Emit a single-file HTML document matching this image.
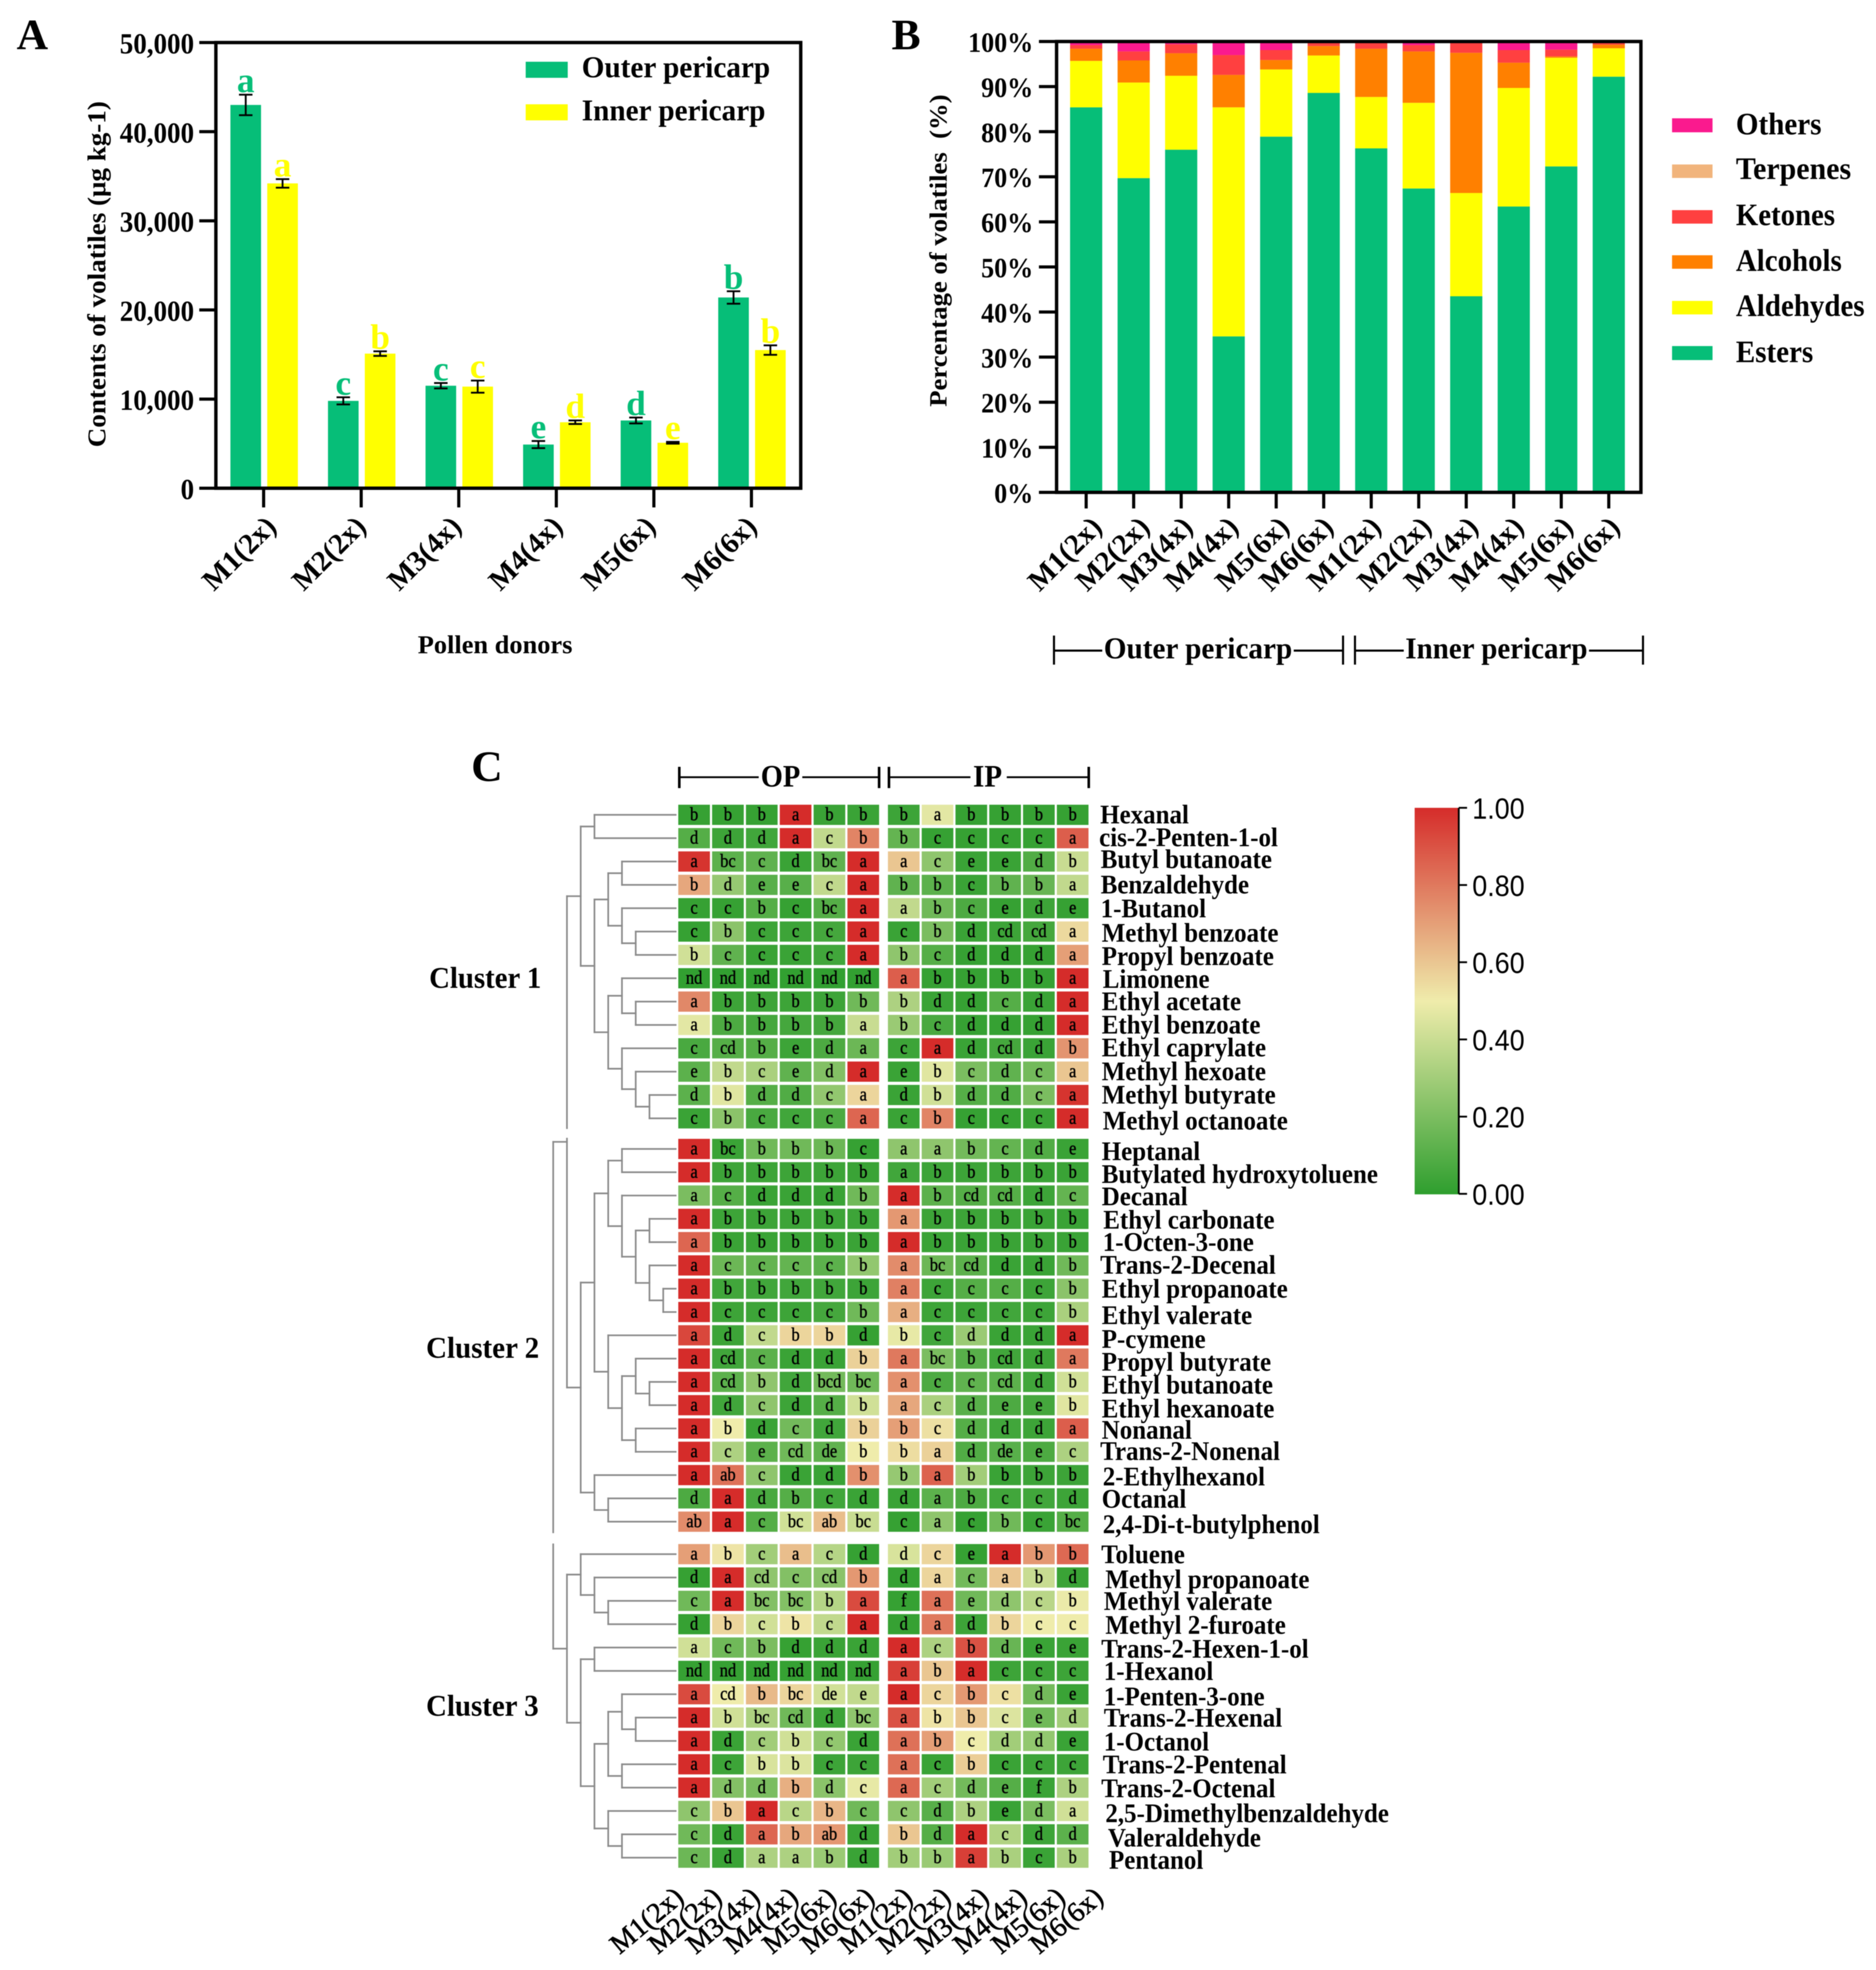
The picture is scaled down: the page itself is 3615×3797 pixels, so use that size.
<!DOCTYPE html>
<html lang="en">
<head>
<meta charset="utf-8">
<title>Volatiles in pericarp by pollen donor</title>
<style>
html,body{margin:0;padding:0;background:#fff;}
svg{display:block;filter:blur(0.9px);}
text{font-family:"Liberation Serif",serif;font-weight:700;fill:#000;}
.rl{font-size:52px;transform-box:fill-box;transform-origin:0 0;transform:scaleX(.925);}
.xl{font-size:56px;}
.hx{font-size:54px;font-weight:400;stroke:#000;stroke-width:1.1px;}
.cb{font-family:"Liberation Sans",sans-serif;font-weight:400;font-size:57px;transform-box:fill-box;transform-origin:0 0;transform:scaleX(.91);}
.ty{transform-box:fill-box;transform-origin:100% 0;transform:scaleX(.93);}
.cl{font-size:36px;font-weight:400;stroke:#000;stroke-width:.7px;transform-box:fill-box;transform-origin:50% 0;transform:scaleX(.88);}
</style>
</head>
<body>
<svg id="fig" xmlns="http://www.w3.org/2000/svg" width="3615" height="3797" viewBox="0 0 3615 3797">
<rect width="3615" height="3797" fill="#fff"/>

<!-- Panel letters -->
<text x="32" y="95" font-size="84">A</text>
<text x="1718" y="95" font-size="84">B</text>
<text x="908" y="1505" font-size="84">C</text>

<!-- Panel A static text -->
<g id="panelA"></g>
<text transform="translate(203 862) rotate(-90)" font-size="50" textLength="667" lengthAdjust="spacingAndGlyphs">Contents of volatiles (μg kg-1)</text>
<text x="805" y="1259" font-size="50" textLength="298" lengthAdjust="spacingAndGlyphs">Pollen donors</text>
<rect x="1013" y="119" width="81" height="31" fill="#06BE78"/>
<rect x="1013" y="201" width="81" height="31" fill="#FFFF00"/>
<text x="1121" y="149" font-size="58" textLength="363" lengthAdjust="spacingAndGlyphs">Outer pericarp</text>
<text x="1121" y="232" font-size="58" textLength="354" lengthAdjust="spacingAndGlyphs">Inner pericarp</text>
<text class="xl" transform="translate(412 1141) rotate(-45)">M1(2x)</text>
<text class="xl" transform="translate(585 1141) rotate(-45)">M2(2x)</text>
<text class="xl" transform="translate(769 1141) rotate(-45)">M3(4x)</text>
<text class="xl" transform="translate(964 1141) rotate(-45)">M4(4x)</text>
<text class="xl" transform="translate(1143 1141) rotate(-45)">M5(6x)</text>
<text class="xl" transform="translate(1338 1141) rotate(-45)">M6(6x)</text>

<!-- Panel B static text -->
<g id="panelB"></g>
<text transform="translate(1824 784) rotate(-90)" font-size="48" textLength="602" lengthAdjust="spacingAndGlyphs">Percentage of volatiles &#160;(%)</text>
<text class="xl" transform="translate(2003 1142) rotate(-45)">M1(2x)</text>
<text class="xl" transform="translate(2095 1142) rotate(-45)">M2(2x)</text>
<text class="xl" transform="translate(2178 1142) rotate(-45)">M3(4x)</text>
<text class="xl" transform="translate(2266 1142) rotate(-45)">M4(4x)</text>
<text class="xl" transform="translate(2364 1142) rotate(-45)">M5(6x)</text>
<text class="xl" transform="translate(2449 1142) rotate(-45)">M6(6x)</text>
<text class="xl" transform="translate(2541 1142) rotate(-45)">M1(2x)</text>
<text class="xl" transform="translate(2638 1142) rotate(-45)">M2(2x)</text>
<text class="xl" transform="translate(2728 1142) rotate(-45)">M3(4x)</text>
<text class="xl" transform="translate(2816 1142) rotate(-45)">M4(4x)</text>
<text class="xl" transform="translate(2911 1142) rotate(-45)">M5(6x)</text>
<text class="xl" transform="translate(3001 1142) rotate(-45)">M6(6x)</text>

<g>
<rect x="3222" y="228" width="78" height="27" fill="#FA1A8E"/>
<rect x="3222" y="317" width="78" height="26" fill="#F1B47C"/>
<rect x="3222" y="405" width="78" height="26" fill="#FF4040"/>
<rect x="3222" y="492" width="78" height="26" fill="#FF8000"/>
<rect x="3222" y="580" width="78" height="26" fill="#FFFF00"/>
<rect x="3222" y="667" width="78" height="27" fill="#06BE78"/>
<text x="3345" y="259" font-size="60" textLength="165" lengthAdjust="spacingAndGlyphs">Others</text>
<text x="3345" y="345" font-size="60" textLength="222" lengthAdjust="spacingAndGlyphs">Terpenes</text>
<text x="3345" y="434" font-size="60" textLength="191" lengthAdjust="spacingAndGlyphs">Ketones</text>
<text x="3345" y="522" font-size="60" textLength="204" lengthAdjust="spacingAndGlyphs">Alcohols</text>
<text x="3345" y="609" font-size="60" textLength="248" lengthAdjust="spacingAndGlyphs">Aldehydes</text>
<text x="3345" y="698" font-size="60" textLength="149" lengthAdjust="spacingAndGlyphs">Esters</text>
</g>

<g stroke="#000" stroke-width="4" fill="none">
<path d="M2031 1225V1281M2031 1254H2124M2493 1254H2588M2588 1225V1281"/>
<path d="M2611 1225V1281M2611 1254H2705M3062 1254H3166M3166 1225V1281"/>
</g>
<text x="2127" y="1269" font-size="58" textLength="363" lengthAdjust="spacingAndGlyphs">Outer pericarp</text>
<text x="2708" y="1269" font-size="58" textLength="351" lengthAdjust="spacingAndGlyphs">Inner pericarp</text>

<!-- Panel C -->
<g stroke="#000" fill="none">
<path stroke-width="3.5" d="M1309 1498H1462M1546 1498H1694"/>
<path stroke-width="5" d="M1309 1478V1519M1694 1478V1519"/>
<path stroke-width="3.5" d="M1713 1498H1870M1940 1498H2098"/>
<path stroke-width="5" d="M1713 1478V1519M2098 1478V1519"/>
</g>
<text x="1466" y="1516" font-size="60" textLength="76" lengthAdjust="spacingAndGlyphs">OP</text>
<text x="1875" y="1516" font-size="60" textLength="56" lengthAdjust="spacingAndGlyphs">IP</text>

<text x="827" y="1904" font-size="58" textLength="216" lengthAdjust="spacingAndGlyphs">Cluster 1</text>
<text x="821" y="2617" font-size="58" textLength="218" lengthAdjust="spacingAndGlyphs">Cluster 2</text>
<text x="821" y="3307" font-size="58" textLength="217" lengthAdjust="spacingAndGlyphs">Cluster 3</text>

<g id="dendro"></g>
<rect x="1086" y="2176" width="13" height="17" fill="#fff"/>
<rect x="1060" y="2955" width="13" height="20" fill="#fff"/>
<g id="heat"></g>

<g>
<text class="rl" x="2120" y="1587">Hexanal</text>
<text class="rl" x="2118" y="1631">cis-2-Penten-1-ol</text>
<text class="rl" x="2121" y="1673">Butyl butanoate</text>
<text class="rl" x="2121" y="1722">Benzaldehyde</text>
<text class="rl" x="2121" y="1768">1-Butanol</text>
<text class="rl" x="2123" y="1815">Methyl benzoate</text>
<text class="rl" x="2123" y="1860">Propyl benzoate</text>
<text class="rl" x="2125" y="1904">Limonene</text>
<text class="rl" x="2123" y="1947">Ethyl acetate</text>
<text class="rl" x="2123" y="1992">Ethyl benzoate</text>
<text class="rl" x="2123" y="2036">Ethyl caprylate</text>
<text class="rl" x="2123" y="2082">Methyl hexoate</text>
<text class="rl" x="2123" y="2127">Methyl butyrate</text>
<text class="rl" x="2125" y="2177">Methyl octanoate</text>
<text class="rl" x="2123" y="2236">Heptanal</text>
<text class="rl" x="2123" y="2280">Butylated hydroxytoluene</text>
<text class="rl" x="2123" y="2323">Decanal</text>
<text class="rl" x="2126" y="2368">Ethyl carbonate</text>
<text class="rl" x="2125" y="2411">1-Octen-3-one</text>
<text class="rl" x="2120" y="2455">Trans-2-Decenal</text>
<text class="rl" x="2123" y="2501">Ethyl propanoate</text>
<text class="rl" x="2123" y="2552">Ethyl valerate</text>
<text class="rl" x="2123" y="2598">P-cymene</text>
<text class="rl" x="2123" y="2642">Propyl butyrate</text>
<text class="rl" x="2123" y="2686">Ethyl butanoate</text>
<text class="rl" x="2123" y="2732">Ethyl hexanoate</text>
<text class="rl" x="2123" y="2773">Nonanal</text>
<text class="rl" x="2120" y="2814">Trans-2-Nonenal</text>
<text class="rl" x="2125" y="2863">2-Ethylhexanol</text>
<text class="rl" x="2123" y="2906">Octanal</text>
<text class="rl" x="2125" y="2955">2,4-Di-t-butylphenol</text>
<text class="rl" x="2122" y="3013">Toluene</text>
<text class="rl" x="2130" y="3061">Methyl propanoate</text>
<text class="rl" x="2127" y="3103">Methyl valerate</text>
<text class="rl" x="2130" y="3149">Methyl 2-furoate</text>
<text class="rl" x="2122" y="3195">Trans-2-Hexen-1-ol</text>
<text class="rl" x="2127" y="3238">1-Hexanol</text>
<text class="rl" x="2127" y="3287">1-Penten-3-one</text>
<text class="rl" x="2127" y="3328">Trans-2-Hexenal</text>
<text class="rl" x="2127" y="3374">1-Octanol</text>
<text class="rl" x="2125" y="3418">Trans-2-Pentenal</text>
<text class="rl" x="2122" y="3464">Trans-2-Octenal</text>
<text class="rl" x="2130" y="3512">2,5-Dimethylbenzaldehyde</text>
<text class="rl" x="2135" y="3559">Valeraldehyde</text>
<text class="rl" x="2137" y="3602">Pentanol</text>
</g>

<defs>
<linearGradient id="cbGrad" x1="0" y1="1" x2="0" y2="0">
<stop offset="0" stop-color="#2E9E2E"/>
<stop offset=".5" stop-color="#EFECAB"/>
<stop offset="1" stop-color="#D52C2A"/>
</linearGradient>
</defs>
<g id="colorbar">
<rect x="2726" y="1557" width="85" height="745" fill="url(#cbGrad)"/>
</g>
</svg>

<script>
/* ---------- Panel A data ---------- */
const categoriesA = ['M1(2x)','M2(2x)','M3(4x)','M4(4x)','M5(6x)','M6(6x)'];
const outerValues = [43000,9800,11500,4900,7600,21400];
const innerValues = [34200,15100,11400,7400,5100,15500];
const outerErrors = [1150,400,300,400,330,700];
const innerErrors = [480,260,680,200,100,530];
const outerLetters = ['a','c','c','e','d','b'];
const innerLetters = ['a','b','c','d','e','b'];
const yTicksA = [0,10000,20000,30000,40000,50000];

/* ---------- Panel B data ---------- */
const categoriesB = ['M1(2x)','M2(2x)','M3(4x)','M4(4x)','M5(6x)','M6(6x)','M1(2x)','M2(2x)','M3(4x)','M4(4x)','M5(6x)','M6(6x)'];
const esters    = [85.4,69.7,76.0,34.6,78.9,88.6,76.3,67.4,43.5,63.4,72.3,92.2];
const aldehydes = [10.3,21.2,16.4,50.8,14.9,8.3,11.4,19.0,22.9,26.3,24.1,6.3];
const alcohols  = [2.7,4.9,5.0,7.2,2.1,2.1,10.7,11.4,31.1,5.6,0.3,0.8];
const ketones   = [0.8,2.0,2.0,4.4,2.2,0.7,1.4,1.4,2.5,2.8,1.5,0.5];
const terpenes  = [0,0,0,0,0,0,0,0,0,0,0,0];
const others    = [0.8,2.2,0.6,3.0,1.9,0.3,0.2,0.8,0,1.9,1.8,0.2];
const yTicksB = [0,10,20,30,40,50,60,70,80,90,100];

/* ---------- Panel C data ---------- */
const heatColumns = ['M1(2x)','M2(2x)','M3(4x)','M4(4x)','M5(6x)','M6(6x)','M1(2x)','M2(2x)','M3(4x)','M4(4x)','M5(6x)','M6(6x)'];
const colorbarTicks = [0,0.2,0.4,0.6,0.8,1];
const heatValues = [
[.02,.02,.02,1,.03,.03,.04,.47,.02,.02,.02,.02],
[.1,.04,.05,1,.38,.77,.14,.02,.02,.02,.02,.87],
[.98,.12,.13,.03,.13,1,.6,.25,.03,.03,.09,.4],
[.68,.27,.11,.11,.38,1,.13,.12,.03,.13,.15,.38],
[.02,.02,.1,.02,.1,1,.38,.17,.08,.02,.04,.02],
[.02,.24,.04,.04,.06,1,.03,.2,.03,.04,.06,.55],
[.42,.13,.03,.03,.05,1,.25,.1,.02,.02,.02,.7],
[.01,.01,.01,.01,.01,.01,.87,.02,.02,.02,.02,1],
[.76,.04,.04,.04,.04,.17,.33,.03,.02,.1,.03,1],
[.47,.08,.06,.06,.06,.4,.28,.07,.02,.02,.02,1],
[.07,.1,.1,.04,.08,.16,.04,1,.03,.06,.03,.73],
[.12,.38,.32,.13,.22,1,.03,.46,.2,.13,.18,.6],
[.12,.46,.1,.09,.26,.56,.03,.42,.1,.09,.2,.98],
[.03,.24,.07,.05,.08,.85,.03,.77,.02,.02,.03,1],
[1,.03,.17,.17,.16,.02,.25,.25,.18,.14,.09,.03],
[1,.04,.04,.04,.04,.03,.05,.04,.04,.04,.03,.03],
[.2,.1,.03,.03,.03,.17,1,.12,.1,.1,.04,.14],
[1,.04,.04,.04,.04,.04,.72,.04,.04,.04,.03,.03],
[.85,.03,.03,.03,.03,.03,1,.03,.03,.03,.03,.03],
[1,.16,.14,.14,.12,.26,.75,.16,.12,.03,.03,.17],
[1,.05,.05,.05,.05,.04,.78,.04,.1,.1,.04,.24],
[1,.04,.04,.04,.06,.17,.66,.04,.04,.05,.04,.32],
[.93,.04,.38,.56,.56,.02,.48,.05,.28,.03,.03,1],
[1,.05,.12,.03,.03,.57,.8,.2,.11,.05,.04,.8],
[1,.12,.25,.05,.18,.17,.74,.08,.13,.12,.05,.42],
[1,.05,.25,.04,.1,.42,.68,.32,.11,.08,.06,.46],
[1,.5,.03,.18,.05,.57,.7,.53,.1,.05,.04,.87],
[1,.33,.12,.17,.13,.5,.54,.57,.09,.11,.08,.33],
[1,.82,.25,.03,.03,.74,.27,.86,.3,.03,.04,.04],
[.08,1,.07,.1,.05,.03,.03,.12,.08,.05,.05,.04],
[.75,1,.1,.42,.62,.4,.02,.25,.02,.17,.03,.1],
[.7,.52,.3,.62,.35,.02,.44,.56,.02,1,.72,.84],
[.02,1,.25,.22,.24,.72,.02,.56,.18,.6,.4,.03],
[.17,1,.22,.22,.35,.92,.02,.82,.17,.25,.36,.49],
[.02,.56,.42,.52,.38,1,.02,.8,.04,.56,.5,.5],
[.42,.17,.2,.02,.03,.03,1,.33,.9,.15,.03,.03],
[.02,.02,.02,.02,.02,.02,.95,.6,1,.04,.04,.04],
[.92,.5,.63,.56,.42,.38,1,.56,.72,.53,.18,.03],
[1,.42,.33,.17,.04,.25,.9,.52,.6,.45,.17,.3],
[1,.03,.3,.42,.26,.03,.82,.7,.5,.3,.26,.03],
[1,.04,.44,.45,.04,.04,.82,.03,.58,.03,.04,.04],
[1,.22,.2,.66,.24,.48,.84,.3,.18,.1,.03,.33],
[.25,.6,1,.36,.64,.17,.25,.11,.33,.03,.2,.42],
[.17,.03,.85,.68,.72,.03,.6,.1,1,.34,.04,.12],
[.16,.03,.33,.33,.28,.03,.3,.28,.95,.32,.03,.32]
];
const heatLetters = [
'b b b a b b b a b b b b','d d d a c b b c c c c a','a bc c d bc a a c e e d b','b d e e c a b b c b b a',
'c c b c bc a a b c e d e','c b c c c a c b d cd cd a','b c c c c a b c d d d a','nd nd nd nd nd nd a b b b b a',
'a b b b b b b d d c d a','a b b b b a b c d d d a','c cd b e d a c a d cd d b','e b c e d a e b c d c a',
'd b d d c a d b d d c a','c b c c c a c b c c c a',
'a bc b b b c a a b c d e','a b b b b b a b b b b b','a c d d d b a b cd cd d c','a b b b b b a b b b b b',
'a b b b b b a b b b b b','a c c c c b a bc cd d d b','a b b b b b a c c c c b','a c c c c b a c c c c b',
'a d c b b d b c d d d a','a cd c d d b a bc b cd d a','a cd b d bcd bc a c c cd d b','a d c d d b a c d e e b',
'a b d c d b b c d d d a','a c e cd de b b a d de e c','a ab c d d b b a b b b b','d a d b c d d a b c c d',
'ab a c bc ab bc c a c b c bc',
'a b c a c d d c e a b b','d a cd c cd b d a c a b d','c a bc bc b a f a e d c b','d b c b c a d a d b c c',
'a c b d d d a c b d e e','nd nd nd nd nd nd a b a c c c','a cd b bc de e a c b c d e','a b bc cd d bc a b b c e d',
'a d c b c d a b c d d e','a c b b c c a c b c c c','a d d b d c a c d e f b','c b a c b c c d b e d a',
'c d a b ab d b d a c d d','c d a a b d b b a b c b'
].map(r => r.split(' '));
/* Dendrogram: [level, child, child]; numbers are heatmap row indices */
const dendroTree = [0,
  [1,
    [2,[3,0,1],[3,[4,[5,2,3],[5,4,[6,5,6]]],[4,[5,7,[6,8,9]],[5,10,[6,11,[7,12,13]]]]]],
    [2,[3,[4,[5,14,15],[5,16,[6,[7,17,18],[7,19,[8,20,21]]]]],[4,22,[5,[6,23,[7,24,25]],[6,26,27]]]],[3,28,[4,29,30]]]
  ],
  [1,
    [2,31,[3,32,[4,33,34]]],
    [2,[3,35,36],[3,[4,[5,37,[6,38,39]],[5,40,41]],[4,42,[5,43,44]]]]
  ]
];

/* ---------- helpers ---------- */
const NS = 'http://www.w3.org/2000/svg';
function mk(tag, attrs, parent, txt){
  const el = document.createElementNS(NS, tag);
  for (const k in attrs) el.setAttribute(k, attrs[k]);
  if (txt !== undefined) el.textContent = txt;
  parent.appendChild(el);
  return el;
}
const GREEN = '#06BE78', YELLOW = '#FFFF00';

/* ---------- Panel A ---------- */
(function(){
  const g = document.getElementById('panelA');
  const yA = v => 941 - v / 50000 * 859;
  const groupX = i => 509 + i * 188;
  const drawBar = (i, v, err, letter, off, color, key) => {
    const x = groupX(i) + off, w = 59;
    const bar = mk('rect', {x:x, y:yA(v), width:w, height:941 - yA(v), fill:color}, g);
    
    
    const cx = x + w / 2;
    const eb = mk('path', {d:`M${cx-13} ${yA(v+err)}H${cx+13}M${cx} ${yA(v+err)}V${yA(v-err)}M${cx-13} ${yA(v-err)}H${cx+13}`, stroke:'#000', 'stroke-width':3.5, fill:'none'}, g);
    
    
    const t = mk('text', {x:cx, y:yA(v + err) - 5, 'text-anchor':'middle', 'font-size':68, style:'fill:' + color}, g, letter);
    
    
  };
  categoriesA.forEach((c, i) => {
    drawBar(i, outerValues[i], outerErrors[i], outerLetters[i], -65, GREEN, 'outer');
    drawBar(i, innerValues[i], innerErrors[i], innerLetters[i], 6, YELLOW, 'inner');
    const tick = mk('line', {x1:groupX(i)-1, x2:groupX(i)-1, y1:941, y2:978, stroke:'#000', 'stroke-width':6}, g);
    
    
  });
  yTicksA.forEach(v => {
    const tick = mk('line', {x1:384, x2:416, y1:yA(v), y2:yA(v), stroke:'#000', 'stroke-width':6}, g);
    
    
    const t = mk('text', {class:'ty', x:374, y:yA(v) + 21, 'text-anchor':'end', 'font-size':56}, g, v.toLocaleString('en-US'));
    
    
  });
  const frame = mk('rect', {x:416, y:yA(50000), width:1127, height:859, fill:'none', stroke:'#000', 'stroke-width':6.5}, g);
  
  
})();

/* ---------- Panel B ---------- */
(function(){
  const g = document.getElementById('panelB');
  const yB = p => 949 - p / 100 * 869;
  const colX = i => 2093 + i * 91.55;
  const stack = [['esters',esters,GREEN],['aldehydes',aldehydes,YELLOW],['alcohols',alcohols,'#FF8000'],['ketones',ketones,'#FF4040'],['terpenes',terpenes,'#F1B47C'],['others',others,'#FA1A8E']];
  categoriesB.forEach((c, i) => {
    let cum = 0;
    stack.forEach(s => {
      const v = s[1][i];
      const seg = mk('rect', {x:colX(i) - 31, y:yB(cum + v), width:62, height:yB(cum) - yB(cum + v), fill:s[2]}, g);
      
      
      cum += v;
    });
    const tick = mk('line', {x1:colX(i), x2:colX(i), y1:949, y2:980, stroke:'#000', 'stroke-width':6}, g);
    
    
  });
  yTicksB.forEach(v => {
    const tick = mk('line', {x1:2002, x2:2036, y1:yB(v), y2:yB(v), stroke:'#000', 'stroke-width':6}, g);
    
    
    const t = mk('text', {class:'ty', x:1991, y:yB(v) + 20, 'text-anchor':'end', 'font-size':54}, g, v + '%');
    
    
  });
  const frame = mk('rect', {x:2036, y:yB(100), width:1126, height:869, fill:'none', stroke:'#000', 'stroke-width':6.5}, g);
  
  
})();

/* ---------- Panel C ---------- */
const rowTop = i => i < 14 ? 1551 + i * 45 : i < 31 ? 2195 + (i - 14) * 44.9 : 2976 + (i - 31) * 45;
const rowMid = i => rowTop(i) + 19.5;
const cellX = j => j < 6 ? 1307 + j * 65.2 : 1711 + (j - 6) * 65.1;
const mix = (a, b, t) => a.map((c, k) => Math.round(c + (b[k] - c) * t));
function heatColor(v){
  const lo = [46,158,46], mid = [239,236,171], hi = [213,44,42];
  const c = v < .5 ? mix(lo, mid, v / .5) : mix(mid, hi, (v - .5) / .5);
  return 'rgb(' + c.join(',') + ')';
}
(function(){
  const g = document.getElementById('heat');
  heatValues.forEach((row, i) => {
    row.forEach((v, j) => {
      const c = mk('rect', {x:cellX(j), y:rowTop(i), width:61, height:39, fill:heatColor(v)}, g);
      
      
      const t = mk('text', {class:'cl', x:cellX(j) + 30.5, y:rowTop(i) + 30, 'text-anchor':'middle'}, g, heatLetters[i][j]);
      
      
    });
  });
  heatColumns.forEach((c, j) => {
    const t = mk('text', {class:'hx', transform:`translate(${1194 + j * 73.5} 3768) rotate(-40)`}, g, c);
    
    
  });
})();

/* Dendrogram */
(function(){
  const g = document.getElementById('dendro');
  const levelX = l => 1066 + l * 26.5;
  const RIGHT = 1302;
  let n = 0;
  function line(x1, y1, x2, y2){
    const l = mk('line', {x1:x1, y1:y1, x2:x2, y2:y2, stroke:'#8a8a8a', 'stroke-width':3.2, 'stroke-linecap':'square'}, g);
    n += 1;
    
    
  }
  function walk(node){
    if (typeof node === 'number') return {x:RIGHT, y:rowMid(node)};
    const kids = node.slice(1).map(walk);
    const x = levelX(node[0]);
    const ys = kids.map(k => k.y);
    line(x, Math.min(...ys), x, Math.max(...ys));
    kids.forEach(k => line(x, k.y, k.x, k.y));
    return {x:x, y:ys.reduce((a, b) => a + b, 0) / ys.length};
  }
  walk(dendroTree);
})();

/* Colorbar axis */
(function(){
  const g = document.getElementById('colorbar');
  const yC = v => 2301 - v * 744;
  const axis = mk('line', {x1:2811, x2:2811, y1:yC(1), y2:yC(0), stroke:'#000', 'stroke-width':3.5}, g);
  
  
  colorbarTicks.forEach(v => {
    const tick = mk('line', {x1:2811, x2:2827, y1:yC(v), y2:yC(v), stroke:'#000', 'stroke-width':3.5}, g);
    
    
    const t = mk('text', {class:'cb', x:2837, y:yC(v) + 21}, g, v.toFixed(2));
    
    
  });
})();
</script>
</body>
</html>
